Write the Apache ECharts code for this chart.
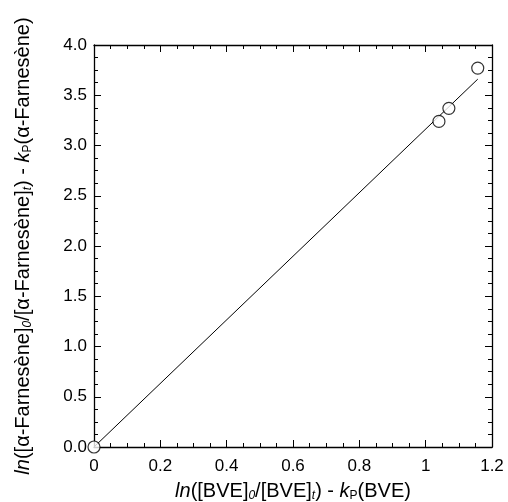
<!DOCTYPE html>
<html>
<head>
<meta charset="utf-8">
<script src="https://cdn.jsdelivr.net/npm/echarts@6/dist/echarts.min.js"></script>
<style>html,body{margin:0;padding:0;background:#fff}#c{width:508px;height:502px}</style>
</head>
<body>
<div id="c"></div>
<script>
var xValues = [0, 1.04, 1.07, 1.157];
var yValues = [0, 3.24, 3.37, 3.77];
var fitX = [0, 1.157];
var fitY = [0, 3.66];
var xTicks = [0, 0.2, 0.4, 0.6, 0.8, 1, 1.2];
var yTicks = [0, 0.5, 1, 1.5, 2, 2.5, 3, 3.5, 4];

var chart = echarts.init(document.getElementById('c'), null, {renderer: 'canvas'});
var font = 'Liberation Sans, Arial, sans-serif';
var pts = xValues.map(function (x, i) { return [x, yValues[i]]; });
var fit = fitX.map(function (x, i) { return [x, fitY[i]]; });

function axisCommon(showLabel, fmt, margin) {
  return {
    axisLine: {show: true, onZero: false, lineStyle: {color: '#000', width: 1.3}},
    axisTick: {show: true, inside: true, length: 7, lineStyle: {color: '#000'}},
    minorTick: {show: true, splitNumber: 4, length: 4, lineStyle: {color: '#000'}},
    splitLine: {show: false},
    axisLabel: {show: showLabel, color: '#000', fontFamily: font, fontSize: 17, margin: margin || 8, formatter: fmt}
  };
}
var rich = {
  it: {fontStyle: 'italic', fontFamily: font, fontSize: 20, color: '#000'},
  n: {fontFamily: font, fontSize: 20, color: '#000'},
  sub: {fontFamily: font, fontSize: 12, color: '#000', padding: [9, 0, 0, 0]},
  itsub: {fontFamily: font, fontSize: 12, color: '#000', fontStyle: 'italic', padding: [9, 0, 0, 0]}
};

var xAxisB = Object.assign(axisCommon(true, function (v) { return String(v); }, 11), {
  type: 'value', min: 0, max: 1.2, interval: 0.2, position: 'bottom',
  name: '{it|ln}{n|([BVE]}{itsub|0}{n|/[BVE]}{itsub|t}{n|) - }{it|k}{sub|P}{n|(BVE)}',
  nameLocation: 'middle', nameGap: 34,
  nameTextStyle: {rich: rich}
});
var xAxisT = Object.assign(axisCommon(false), {type: 'value', min: 0, max: 1.2, interval: 0.2, position: 'top'});
var yAxisL = Object.assign(axisCommon(true, function (v) { return v.toFixed(1); }, 7), {
  type: 'value', min: 0, max: 4, interval: 0.5, position: 'left',
  name: '{it|ln}{n|([α-Farnesène]}{itsub|0}{n|/[α-Farnesène]}{itsub|t}{n|) - }{it|k}{sub|P}{n|(α-Farnesène)}',
  nameLocation: 'middle', nameGap: 60, nameRotate: 90,
  nameTextStyle: {rich: rich}
});
var yAxisR = Object.assign(axisCommon(false), {type: 'value', min: 0, max: 4, interval: 0.5, position: 'right'});

chart.setOption({
  animation: false,
  backgroundColor: '#fff',
  grid: {left: 94, right: 16, top: 45, bottom: 55, containLabel: false, outerBoundsMode: 'none'},
  xAxis: [xAxisB, xAxisT],
  yAxis: [yAxisL, yAxisR],
  series: [
    {type: 'line', data: fit, xAxisIndex: 0, yAxisIndex: 0, symbol: 'none',
     lineStyle: {color: '#000', width: 1}, z: 2},
    {type: 'scatter', data: pts, xAxisIndex: 0, yAxisIndex: 0, symbol: 'circle', symbolSize: 12,
     itemStyle: {color: '#fff', borderColor: '#000', borderWidth: 1.2}, z: 3}
  ]
});
</script>
</body>
</html>
